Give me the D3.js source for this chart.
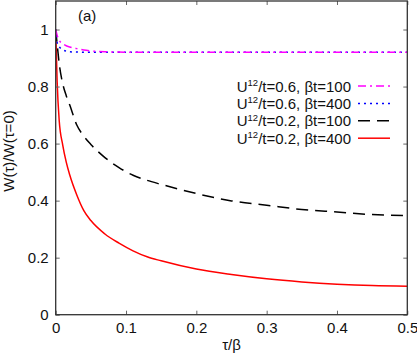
<!DOCTYPE html>
<html>
<head>
<meta charset="utf-8">
<script src="https://cdn.jsdelivr.net/npm/d3@7"></script>
<style>
  body { margin: 0; background: #fff; }
  svg { display: block; }
  text { font-family: "Liberation Sans", Arial, sans-serif; fill: #111; }
</style>
</head>
<body>
<div id="chart"></div>
<script>
// tau/beta sample points shared by all curves
const tau = [0, 0.002, 0.005, 0.01, 0.015, 0.02, 0.03, 0.04, 0.05, 0.07, 0.09, 0.11, 0.13, 0.15, 0.2, 0.25, 0.3, 0.35, 0.4, 0.45, 0.5];

// W(tau)/W(0)
const u06b100 = [1.0, 0.98, 0.962, 0.95, 0.943, 0.939, 0.933, 0.928, 0.925, 0.922, 0.921, 0.92, 0.92, 0.92, 0.92, 0.92, 0.92, 0.92, 0.92, 0.92, 0.92];
const u06b400 = [1.0, 0.955, 0.94, 0.929, 0.924, 0.922, 0.921, 0.92, 0.92, 0.92, 0.92, 0.92, 0.92, 0.92, 0.92, 0.92, 0.92, 0.92, 0.92, 0.92, 0.92];
const u02b100 = [1.0, 0.95, 0.88, 0.81, 0.768, 0.735, 0.665, 0.626, 0.597, 0.551, 0.516, 0.489, 0.471, 0.457, 0.425, 0.399, 0.384, 0.369, 0.36, 0.351, 0.348];
const u02b400 = [1.0, 0.82, 0.68, 0.595, 0.535, 0.49, 0.42, 0.365, 0.33, 0.283, 0.251, 0.224, 0.203, 0.189, 0.16, 0.141, 0.126, 0.115, 0.107, 0.102, 0.1];

const xTicks = [0, 0.1, 0.2, 0.3, 0.4, 0.5];
const yTicks = [0, 0.2, 0.4, 0.6, 0.8, 1];

const seriesNames = ["0.6, \u03b2t=100", "0.6, \u03b2t=400", "0.2, \u03b2t=100", "0.2, \u03b2t=400"];
const seriesValues = [u06b100, u06b400, u02b100, u02b400];
const seriesColors = ["#ff00ff", "#0000ff", "#000000", "#ff0000"];
const seriesDash = ["8,4,2,4", "2,4", "12,7", null];

const W = 417, H = 354;
const margin = {top: 1, right: 9.7, bottom: 39.3, left: 55.7};
const w = W - margin.left - margin.right,
      h = H - margin.top - margin.bottom;

const svg = d3.select("#chart").append("svg")
    .attr("width", W)
    .attr("height", H);

const g = svg.append("g")
    .attr("transform", "translate(" + margin.left + "," + margin.top + ")");

const x = d3.scaleLinear().domain([0, 0.5]).range([0, w]);
const y = d3.scaleLinear().domain([0, 1.1]).range([h, 0]);

// curves
const line = d3.line()
    .x((d, i) => x(tau[i]))
    .y(d => y(d))
    .curve(d3.curveMonotoneX);

g.append("defs").append("clipPath").attr("id", "clip")
  .append("rect").attr("width", w).attr("height", h);

const curves = g.append("g").attr("clip-path", "url(#clip)");
// draw back to front: red, black, blue, magenta
[3, 2, 1, 0].forEach(i => {
  curves.append("path")
    .datum(seriesValues[i])
    .attr("d", line)
    .attr("fill", "none")
    .attr("stroke", seriesColors[i])
    .attr("stroke-width", 1.5)
    .attr("stroke-dasharray", seriesDash[i]);
});

// axes with inward ticks, mirrored top/right
const fs = 15;
const xAxis = g.append("g").attr("transform", "translate(0," + h + ")")
    .call(d3.axisBottom(x).tickValues(xTicks).tickSize(-4).tickPadding(8).tickFormat(d3.format("")));
const yAxis = g.append("g")
    .call(d3.axisLeft(y).tickValues(yTicks).tickSize(-4).tickPadding(7).tickFormat(d3.format("")));
const xTop = g.append("g")
    .call(d3.axisTop(x).tickValues(xTicks).tickSize(-4).tickFormat(""));
const yRight = g.append("g").attr("transform", "translate(" + w + ",0)")
    .call(d3.axisRight(y).tickValues(yTicks).tickSize(-4).tickFormat(""));

[xAxis, yAxis, xTop, yRight].forEach(a => {
  a.select(".domain").remove();
  a.selectAll(".tick line").attr("stroke", "#666");
  a.selectAll("text").attr("font-size", fs).attr("font-family", null).style("fill", "#111");
});

// frame
g.append("rect")
    .attr("width", w).attr("height", h)
    .attr("fill", "none")
    .attr("stroke", "#333")
    .attr("stroke-width", 1.3);

// axis labels
svg.append("text")
    .attr("x", margin.left + w / 2)
    .attr("y", 350)
    .attr("text-anchor", "middle")
    .attr("font-size", fs)
    .text("\u03c4/\u03b2");

svg.append("text")
    .attr("transform", "translate(13.5,151) rotate(-90)")
    .attr("text-anchor", "middle")
    .attr("font-size", fs)
    .text("W(\u03c4)/W(\u03c4=0)");

// panel label
svg.append("text")
    .attr("x", 78)
    .attr("y", 21)
    .attr("font-size", fs)
    .text("(a)");

// legend
const legend = svg.append("g");
const legX = 351, legY = 86, legStep = 17.4;
seriesNames.forEach((name, i) => {
  const row = legend.append("g").attr("transform", "translate(0," + (legY + i * legStep) + ")");
  const t = row.append("text")
      .attr("x", legX)
      .attr("y", 5.5)
      .attr("text-anchor", "end")
      .attr("font-size", fs);
  t.append("tspan").text("U");
  t.append("tspan").attr("font-size", 9.5).attr("dy", -5.5).text("12");
  t.append("tspan").attr("dy", 5.5).text("/t=" + name);
  row.append("line")
      .attr("x1", 358).attr("x2", 390)
      .attr("y1", 0).attr("y2", 0)
      .attr("stroke", seriesColors[i])
      .attr("stroke-width", 1.5)
      .attr("stroke-dasharray", seriesDash[i]);
});
</script>
</body>
</html>
